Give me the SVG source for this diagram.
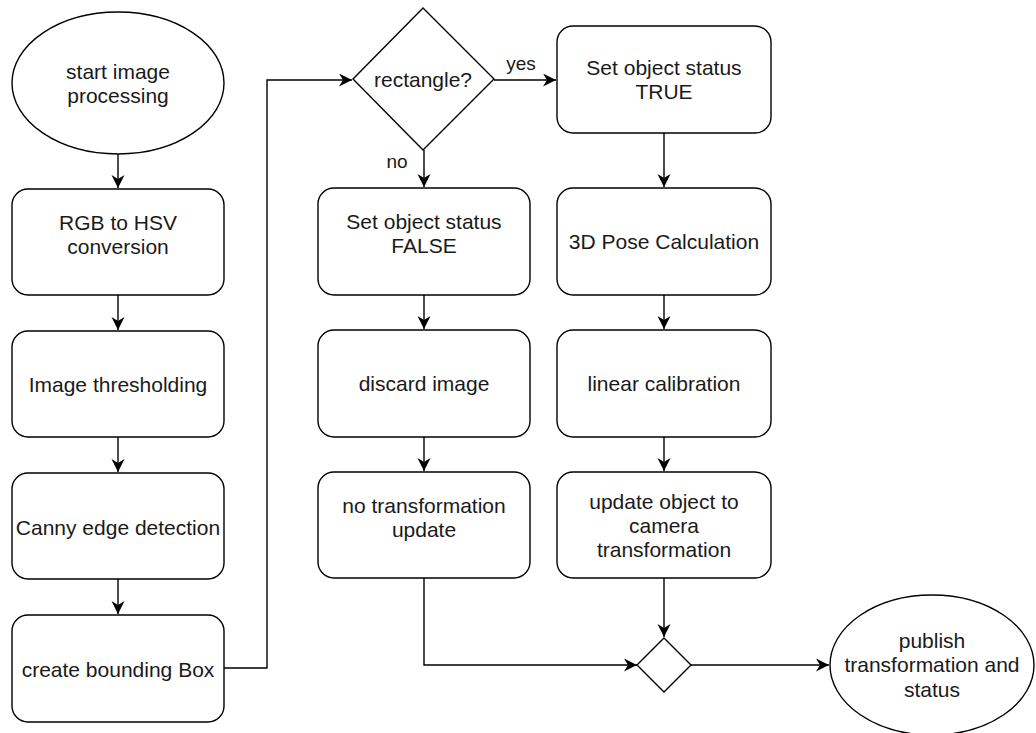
<svg xmlns="http://www.w3.org/2000/svg" width="1036" height="733" viewBox="0 0 1036 733">
  <style>
    .shape { fill: #ffffff; stroke: #000000; stroke-width: 1.4; }
    .edge { fill: none; stroke: #000000; stroke-width: 1.4; marker-end: url(#arrow); }
    text { font-family: "Liberation Sans", Arial, Helvetica, sans-serif; font-size: 21px; fill: #1a1a1a; text-anchor: middle; }
    .lbl { font-size: 19px; }
  </style>
  <defs>
    <marker id="arrow" markerUnits="userSpaceOnUse" markerWidth="15" markerHeight="15" refX="13" refY="6.5" orient="auto">
      <path d="M0,0 L13,6.5 L0,13 L4,6.5 Z" fill="#000000"/>
    </marker>
  </defs>

  <!-- connectors -->
  <g id="connectors">
    <path class="edge" d="M118,153 L118,188"/>
    <path class="edge" d="M118,295 L118,330"/>
    <path class="edge" d="M118,437 L118,472"/>
    <path class="edge" d="M118,579 L118,614"/>
    <path class="edge" d="M224,668 L267,668 L267,80 L352,80"/>
    <path class="edge" d="M494,80 L556,80"/>
    <path class="edge" d="M424,150 L424,187"/>
    <path class="edge" d="M424,295 L424,329"/>
    <path class="edge" d="M424,437 L424,471"/>
    <path class="edge" d="M664,133 L664,187"/>
    <path class="edge" d="M664,295 L664,329"/>
    <path class="edge" d="M664,437 L664,471"/>
    <path class="edge" d="M664,578 L664,637"/>
    <path class="edge" d="M424,578 L424,665 L637,665"/>
    <path class="edge" d="M691,665 L829,665"/>
    <text class="lbl" x="521" y="70">yes</text>
    <text class="lbl" x="397" y="168">no</text>
  </g>

  <!-- left column -->
  <g id="start">
    <ellipse class="shape" cx="118" cy="83" rx="106" ry="71"/>
    <text x="118" y="79">start image</text>
    <text x="118" y="103">processing</text>
  </g>
  <g id="rgb-to-hsv">
    <rect class="shape" x="12" y="189" width="212" height="106" rx="16"/>
    <text x="118" y="230">RGB to HSV</text>
    <text x="118" y="254">conversion</text>
  </g>
  <g id="thresholding">
    <rect class="shape" x="12" y="331" width="212" height="106" rx="16"/>
    <text x="118" y="392">Image thresholding</text>
  </g>
  <g id="canny">
    <rect class="shape" x="12" y="473" width="212" height="106" rx="16"/>
    <text x="118" y="535">Canny edge detection</text>
  </g>
  <g id="bounding-box">
    <rect class="shape" x="12" y="615" width="212" height="107" rx="16"/>
    <text x="118" y="677">create bounding Box</text>
  </g>

  <!-- decision -->
  <g id="rectangle-check">
    <polygon class="shape" points="423,8 494,79 423,150 353,79"/>
    <text x="423" y="87">rectangle?</text>
  </g>

  <!-- middle column -->
  <g id="status-false">
    <rect class="shape" x="318" y="188" width="212" height="107" rx="16"/>
    <text x="424" y="229">Set object status</text>
    <text x="424" y="253">FALSE</text>
  </g>
  <g id="discard">
    <rect class="shape" x="318" y="330" width="212" height="107" rx="16"/>
    <text x="424" y="391">discard image</text>
  </g>
  <g id="no-update">
    <rect class="shape" x="318" y="472" width="212" height="106" rx="16"/>
    <text x="424" y="513">no transformation</text>
    <text x="424" y="537">update</text>
  </g>

  <!-- right column -->
  <g id="status-true">
    <rect class="shape" x="557" y="26" width="214" height="107" rx="16"/>
    <text x="664" y="75">Set object status</text>
    <text x="664" y="99">TRUE</text>
  </g>
  <g id="pose">
    <rect class="shape" x="557" y="188" width="214" height="107" rx="16"/>
    <text x="664" y="249">3D Pose Calculation</text>
  </g>
  <g id="calibration">
    <rect class="shape" x="557" y="330" width="214" height="107" rx="16"/>
    <text x="664" y="391">linear calibration</text>
  </g>
  <g id="update-transform">
    <rect class="shape" x="557" y="472" width="214" height="106" rx="16"/>
    <text x="664" y="509">update object to</text>
    <text x="664" y="533">camera</text>
    <text x="664" y="557">transformation</text>
  </g>

  <!-- merge and end -->
  <g id="merge">
    <polygon class="shape" points="664,638 691,665 664,692 637,665"/>
  </g>
  <g id="publish">
    <ellipse class="shape" cx="932" cy="665" rx="102" ry="70"/>
    <text x="932" y="648">publish</text>
    <text x="932" y="672">transformation and</text>
    <text x="932" y="697">status</text>
  </g>
</svg>
